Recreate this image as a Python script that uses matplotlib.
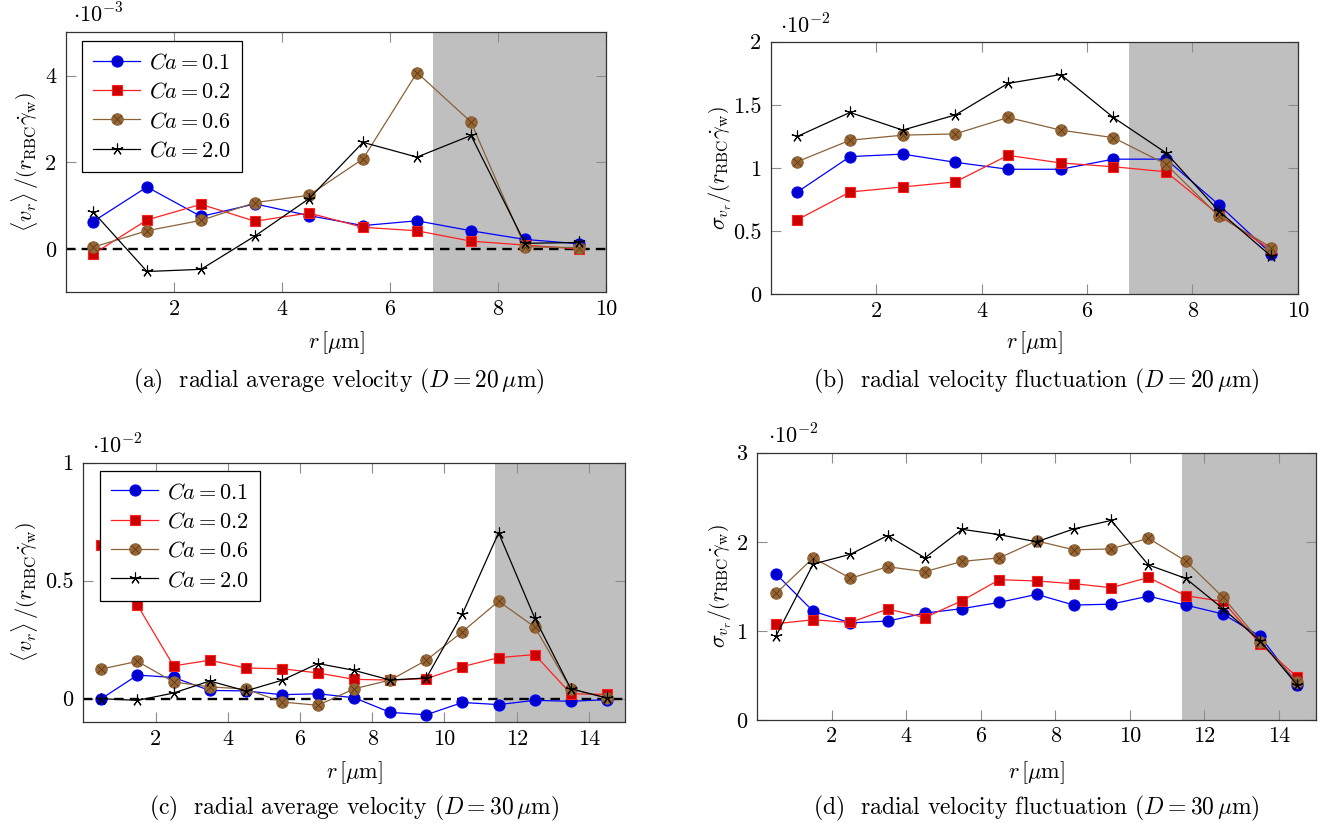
import matplotlib
matplotlib.use("Agg")
import matplotlib.pyplot as plt
from matplotlib.legend_handler import HandlerTuple
import numpy as np

plt.rcParams['font.family'] = 'serif'
plt.rcParams['font.serif'] = ['cmr10', 'DejaVu Serif']
plt.rcParams['mathtext.fontset'] = 'cm'
plt.rcParams['axes.formatter.use_mathtext'] = True
plt.rcParams['axes.unicode_minus'] = False

# ---------------- data ----------------
labels = [r'$Ca = 0.1$', r'$Ca = 0.2$', r'$Ca = 0.6$', r'$Ca = 2.0$']

r20 = [0.5, 1.5, 2.5, 3.5, 4.5, 5.5, 6.5, 7.5, 8.5, 9.5]
r30 = [0.5, 1.5, 2.5, 3.5, 4.5, 5.5, 6.5, 7.5, 8.5, 9.5, 10.5, 11.5, 12.5, 13.5, 14.5]

# (a) radial average velocity, D = 20 um  (x 1e-3)
a_ca01 = [0.63, 1.43, 0.75, 1.04, 0.77, 0.54, 0.65, 0.42, 0.22, 0.12]
a_ca02 = [-0.12, 0.67, 1.03, 0.64, 0.83, 0.50, 0.42, 0.18, 0.09, 0.0]
a_ca06 = [0.04, 0.42, 0.66, 1.07, 1.24, 2.08, 4.07, 2.93, 0.05, 0.03]
a_ca20 = [0.86, -0.52, -0.47, 0.30, 1.16, 2.46, 2.12, 2.62, 0.13, 0.15]

# (b) radial velocity fluctuation, D = 20 um  (x 1e-2)
b_ca01 = [0.81, 1.09, 1.11, 1.045, 0.99, 0.99, 1.07, 1.07, 0.71, 0.32]
b_ca02 = [0.59, 0.81, 0.85, 0.89, 1.10, 1.04, 1.01, 0.97, 0.63, 0.35]
b_ca06 = [1.05, 1.22, 1.26, 1.27, 1.40, 1.30, 1.24, 1.03, 0.62, 0.37]
b_ca20 = [1.25, 1.44, 1.30, 1.42, 1.67, 1.74, 1.40, 1.12, 0.66, 0.30]

# (c) radial average velocity, D = 30 um  (x 1e-2)
c_ca01 = [0.0, 0.10, 0.09, 0.035, 0.033, 0.017, 0.021, 0.004, -0.058, -0.068,
          -0.016, -0.025, -0.007, -0.011, -0.004]
c_ca02 = [0.65, 0.396, 0.139, 0.163, 0.13, 0.127, 0.109, 0.082, 0.079, 0.085,
          0.136, 0.174, 0.187, 0.021, 0.018]
c_ca06 = [0.126, 0.158, 0.071, 0.05, 0.041, -0.014, -0.028, 0.042, 0.079, 0.163,
          0.284, 0.413, 0.304, 0.041, 0.003]
c_ca20 = [0.0, -0.007, 0.024, 0.075, 0.033, 0.078, 0.149, 0.12, 0.079, 0.088,
          0.36, 0.703, 0.342, 0.042, 0.003]

# (d) radial velocity fluctuation, D = 30 um  (x 1e-2)
d_ca01 = [1.64, 1.22, 1.09, 1.11, 1.20, 1.25, 1.32, 1.41, 1.29, 1.30,
          1.39, 1.29, 1.19, 0.94, 0.39]
d_ca02 = [1.08, 1.125, 1.095, 1.245, 1.15, 1.34, 1.575, 1.56, 1.53, 1.485,
          1.60, 1.395, 1.33, 0.855, 0.48]
d_ca06 = [1.42, 1.82, 1.59, 1.72, 1.665, 1.78, 1.82, 2.01, 1.91, 1.92,
          2.04, 1.785, 1.38, 0.88, 0.43]
d_ca20 = [0.94, 1.75, 1.86, 2.07, 1.82, 2.14, 2.08, 2.0, 2.145, 2.24,
          1.74, 1.59, 1.25, 0.89, 0.39]

# ---------------- styles ----------------
BLUE_L, BLUE_F = '#0000ff', '#0000cc'
RED_L, RED_F = '#ff2020', '#cc0000'
BRN_L, BRN_F = '#8a6238', '#996633'
BRN_X = '#5a3a1a'

ylab_avg = r'$\langle v_r\rangle\,/\left(r_{\mathrm{RBC}}\dot{\gamma}_{\mathrm{w}}\right)$'
ylab_sig = r'$\sigma_{v_r}/\left(r_{\mathrm{RBC}}\dot{\gamma}_{\mathrm{w}}\right)$'
xlab = r'$r\,[\mu\mathrm{m}]$'

FS = 16
LFS = 16
W, H = 1328, 830
fig = plt.figure(figsize=(W / 100, H / 100), dpi=100)


def px_axes(l, t, r, b):
    return fig.add_axes([l / W, 1 - b / H, (r - l) / W, (b - t) / H])


def draw(ax, x, ys, xlim, ylim, shade, xt, yt, ytl, scale, zero, ylab,
         ylab_x, xlab_y, sc_x, sc_y, legend_anchor=None):
    ax.axvspan(shade, xlim[1], color='#bfbfbf', lw=0, zorder=0.5)
    if zero:
        ax.axhline(0, color='black', lw=1.7, ls=(0, (4, 2.6)), zorder=1.8)
    lw = 0.9
    l1, = ax.plot(x, ys[0], color=BLUE_L, lw=lw, marker='o', ms=8,
                  mfc=BLUE_F, mec=BLUE_L, mew=0.8, zorder=2)
    l2, = ax.plot(x, ys[1], color=RED_L, lw=lw, marker='s', ms=7.6,
                  mfc=RED_F, mec=RED_L, mew=0.8, zorder=2.1)
    l3, = ax.plot(x, ys[2], color=BRN_L, lw=lw, marker='o', ms=8.2,
                  mfc=BRN_F, mec=BRN_L, mew=0.8, zorder=2.2)
    l3x, = ax.plot(x, ys[2], ls='none', marker='x', ms=5.2,
                   mec=BRN_X, mew=0.6, zorder=2.25)
    l4, = ax.plot(x, ys[3], color='black', lw=lw, marker=(5, 2, 0), ms=8.5,
                  mec='black', mew=0.8, zorder=2.3)
    ax.set_xlim(*xlim)
    ax.set_ylim(*ylim)
    ax.set_xticks(xt)
    ax.set_xticklabels([str(v) for v in xt])
    ax.set_yticks(yt)
    ax.set_yticklabels(ytl)
    ax.tick_params(direction='in', length=7, width=0.8, color='0.55',
                   top=True, right=True, labelsize=FS)
    ax.tick_params(axis='x', pad=5)
    ax.tick_params(axis='y', pad=7)
    for s in ax.spines.values():
        s.set_color('0.2')
        s.set_linewidth(0.9)
    ax.text(0.5, xlab_y, xlab, transform=ax.transAxes, ha='center',
            va='center', fontsize=FS)
    ax.text(ylab_x, 0.5, ylab, transform=ax.transAxes, ha='center',
            va='center', rotation=90, fontsize=FS)
    ax.text(sc_x, sc_y, scale, transform=ax.transAxes, ha='left',
            va='baseline', fontsize=FS)
    if legend_anchor is not None:
        leg = ax.legend([l1, l2, (l3, l3x), l4], labels,
                        handler_map={tuple: HandlerTuple(ndivide=1)},
                        loc='upper left', bbox_to_anchor=legend_anchor,
                        borderaxespad=0, fontsize=LFS, fancybox=False,
                        framealpha=1, edgecolor='black', handlelength=2.1,
                        handletextpad=0.4, labelspacing=0.42,
                        borderpad=0.5, numpoints=1)
        leg.get_frame().set_linewidth(0.9)
        leg.set_zorder(5)


axa = px_axes(66, 32.3, 606, 292.3)
draw(axa, r20, [a_ca01, a_ca02, a_ca06, a_ca20], (0, 10), (-1, 5), 6.8,
     [2, 4, 6, 8, 10], [0, 2, 4], ['0', '2', '4'], r'$\cdot10^{-3}$', True,
     ylab_avg, -0.076, -0.195, 0.013, 1.036, legend_anchor=(0.03, 0.965))

axb = px_axes(771, 41.7, 1297.7, 294.3)
draw(axb, r20, [b_ca01, b_ca02, b_ca06, b_ca20], (0, 10), (0, 2), 6.8,
     [2, 4, 6, 8, 10], [0, 0.5, 1, 1.5, 2], ['0', '0.5', '1', '1.5', '2'],
     r'$\cdot10^{-2}$', False, ylab_sig, -0.097, -0.193, 0.017, 1.034)

axc = px_axes(83.3, 462.7, 625, 722.3)
draw(axc, r30, [c_ca01, c_ca02, c_ca06, c_ca20], (0, 15), (-0.1, 1.0), 11.4,
     [2, 4, 6, 8, 10, 12, 14], [0, 0.5, 1], ['0', '0.5', '1'],
     r'$\cdot10^{-2}$', True, ylab_avg, -0.108, -0.195, 0.016, 1.037,
     legend_anchor=(0.031, 0.968))

axd = px_axes(757.3, 452.7, 1316, 720)
draw(axd, r30, [d_ca01, d_ca02, d_ca06, d_ca20], (0, 15), (0, 3), 11.4,
     [2, 4, 6, 8, 10, 12, 14], [0, 1, 2, 3], ['0', '1', '2', '3'],
     r'$\cdot10^{-2}$', False, ylab_sig, -0.067, -0.198, 0.019, 1.033)

CFS = 17
fig.text(339 / W, 1 - 381 / H, r'(a)  radial average velocity ($D = 20\,\mu$m)',
         ha='center', va='center', fontsize=CFS)
fig.text(1036 / W, 1 - 381 / H, r'(b)  radial velocity fluctuation ($D = 20\,\mu$m)',
         ha='center', va='center', fontsize=CFS)
fig.text(354 / W, 1 - 808 / H, r'(c)  radial average velocity ($D = 30\,\mu$m)',
         ha='center', va='center', fontsize=CFS)
fig.text(1036 / W, 1 - 808 / H, r'(d)  radial velocity fluctuation ($D = 30\,\mu$m)',
         ha='center', va='center', fontsize=CFS)

fig.savefig('out.png', dpi=100)
